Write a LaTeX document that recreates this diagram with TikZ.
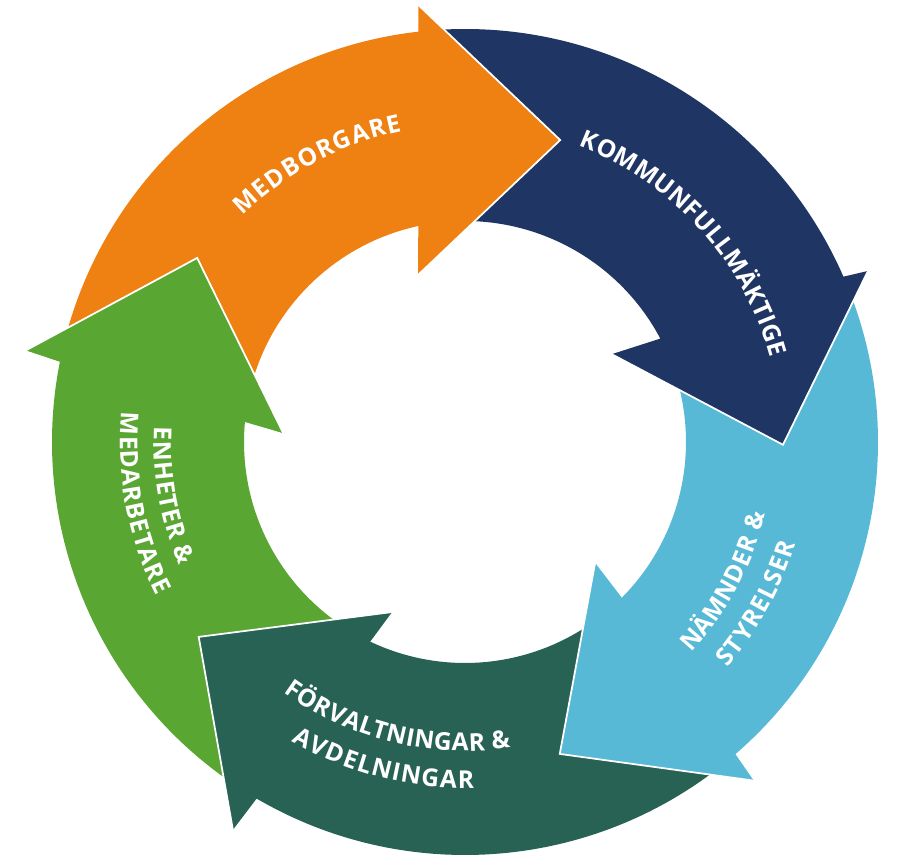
\documentclass[tikz,border=0pt]{standalone}
\usepackage{fontspec}
\usetikzlibrary{decorations.text}
\newfontfamily\lblfont{Open Sans}
\newcommand{\ringfont}{\lblfont\bfseries\fontsize{21}{21}\selectfont}
\definecolor{borgare}{HTML}{EF8012}
\definecolor{fullmakt}{HTML}{1F3563}
\definecolor{namnd}{HTML}{57B9D5}
\definecolor{forvalt}{HTML}{276254}
\definecolor{enhet}{HTML}{5AA632}
\tikzstyle{headrim}=[draw=white,line width=1.5pt,line join=miter]
\tikzstyle{ringtext}=[decorate,decoration={text along path,text align={fit to path},text color=white}]

\begin{document}
\begin{tikzpicture}[x=0.3mm,y=0.3mm]
\useasboundingbox (0,0) rectangle (900,-860);
\begin{scope}[shift={(465,-442)}]

	% enheter & medarbetare
	\fill[enhet] (-121.3:413) arc[start angle=-121.3, end angle=-191.2, radius=413]
		-- (168.2:448.5) -- (145.5:325) -- (177.2:182) -- (174.8:221)
		arc[start angle=-185.2, end angle=-116.4, radius=221] -- cycle;

	% forvaltningar & avdelningar
	\fill[forvalt] (-50.1:413) arc[start angle=-50.1, end angle=-120.3, radius=413]
		-- (-120.9:452) -- (-143.8:330) -- (-113.2:185) -- (-115.4:221)
		arc[start angle=-115.4, end angle=-45.8, radius=221] -- cycle;
	\draw[headrim] (-120.9:452) -- (-143.8:330) -- (-113.2:185);

	% namnder & styrelser
	\fill[namnd] (22.6:413) arc[start angle=22.6, end angle=-49.1, radius=413]
		-- (-49.55:445) -- (-73.1:326) -- (-42.9:177.6) -- (-44.8:221)
		arc[start angle=-44.8, end angle=26.9, radius=221] -- cycle;
	\draw[headrim] (-49.55:445) -- (-73.1:326) -- (-42.9:177.6);

	% kommunfullmaktige
	\fill[fullmakt] (95.5:413) arc[start angle=95.5, end angle=23.6, radius=413]
		-- (23.0:437.8) -- (-0.5:318) -- (30.9:171) -- (27.9:221)
		arc[start angle=27.9, end angle=101.2, radius=221] -- cycle;
	\draw[headrim] (23.0:437.8) -- (-0.5:318) -- (30.9:171);

	% medborgare
	\fill[borgare] (167.8:413) arc[start angle=167.8, end angle=96.5, radius=413]
		-- (96.1:439.5) -- (72.5:316.6) -- (105.7:173.5) -- (102.2:221)
		arc[start angle=102.2, end angle=173.8, radius=221] -- cycle;
	\draw[headrim] (96.1:439.5) -- (72.5:316.6) -- (105.7:173.5);

	% green head again, over the orange tail
	\fill[enhet] (168.2:448.5) -- (145.5:325) -- (177.2:182) -- cycle;
	\draw[headrim] (168.2:448.5) -- (145.5:325) -- (177.2:182);

	% labels
	\path[ringtext,decoration={text={|\ringfont|MEDBORGARE}}]
		(134.5:317) arc[start angle=134.5, end angle=101.5, radius=317];
	\path[ringtext,decoration={text={|\ringfont|KOMMUNFULLMÄKTIGE}}]
		(69:317) arc[start angle=69, end angle=15.5, radius=317];
	\path[ringtext,decoration={text={|\ringfont|NÄMNDER {\&}}}]
		(-43:309) arc[start angle=-43, end angle=-13.5, radius=309];
	\path[ringtext,decoration={text={|\ringfont|STYRELSER}}]
		(-40.7:346) arc[start angle=-40.7, end angle=-17.2, radius=346];
	\path[ringtext,decoration={text={|\ringfont|FÖRVALTNINGAR {\&}}}]
		(234:309) arc[start angle=234, end angle=278.5, radius=309];
	\path[ringtext,decoration={text={|\ringfont|AVDELNINGAR}}]
		(240:346) arc[start angle=240, end angle=271.5, radius=346];
	\path[ringtext,decoration={text={|\ringfont|ENHETER {\&}}}]
		(177.2:311) arc[start angle=177.2, end angle=203.5, radius=311];
	\path[ringtext,decoration={text={|\ringfont|MEDARBETARE}}]
		(175:345) arc[start angle=175, end angle=206.5, radius=345];

\end{scope}
\end{tikzpicture}
\end{document}
